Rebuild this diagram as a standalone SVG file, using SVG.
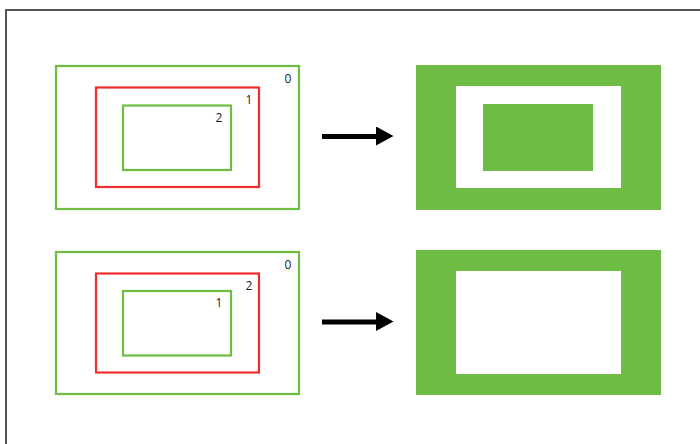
<svg xmlns="http://www.w3.org/2000/svg" width="700" height="444" viewBox="0 0 700 444">
<style>
.g{fill:none;stroke:#70bd44;stroke-width:2.2}
.r{fill:none;stroke:#ee2d2d;stroke-width:2.2}
.f{fill:#6fbd44}
.w{fill:#ffffff}
.t{font-family:"Open Sans","DejaVu Sans",sans-serif;font-size:12px;fill:#222;text-anchor:middle}
.frame{fill:none;stroke:#555;stroke-width:2}
</style>
<defs>
<marker id="ah" markerWidth="4" markerHeight="4" refX="0" refY="2" orient="auto" markerUnits="strokeWidth"><path d="M0,0 L3.5,1.9 L0,3.8 Z" fill="#000"/></marker>
</defs>
<rect width="700" height="444" fill="#fff"/>
<path class="frame" d="M6,445 L6,10 L701,10"/>
<g id="nest-top">
<rect class="g" x="56" y="66" width="243" height="143"/>
<rect class="r" x="96" y="87.5" width="163" height="99.5"/>
<rect class="g" x="123" y="105.5" width="108" height="64.5"/>
<text class="t" x="288" y="83">0</text>
<text class="t" x="249" y="104">1</text>
<text class="t" x="219" y="122">2</text>
</g>
<g id="nest-bottom">
<rect class="g" x="56" y="252" width="243" height="142"/>
<rect class="r" x="96" y="273.5" width="163" height="99"/>
<rect class="g" x="123" y="291" width="108" height="64.5"/>
<text class="t" x="288" y="269">0</text>
<text class="t" x="249" y="289.5">2</text>
<text class="t" x="219" y="307">1</text>
</g>
<g id="result-top">
<rect class="f" x="416" y="65" width="245" height="145"/>
<rect class="w" x="456" y="86" width="165" height="102"/>
<rect class="f" x="483" y="104" width="110" height="67"/>
</g>
<g id="result-bottom">
<rect class="f" x="416" y="250" width="245" height="145"/>
<rect class="w" x="456" y="271" width="165" height="103"/>
</g>
<g id="connectors">
<line x1="322" y1="136.5" x2="376" y2="136.5" stroke="#000" stroke-width="5" marker-end="url(#ah)"/>
<line x1="322" y1="322" x2="376" y2="322" stroke="#000" stroke-width="5" marker-end="url(#ah)"/>
</g>
</svg>
